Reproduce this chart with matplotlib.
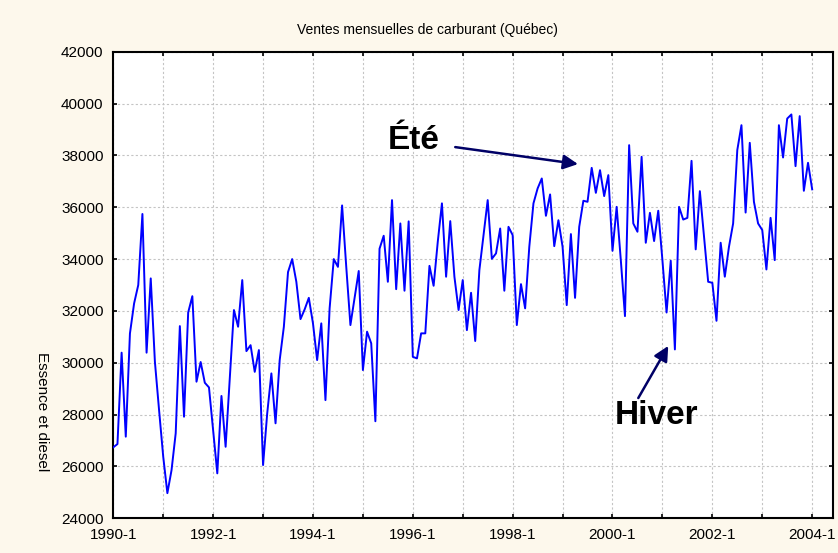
import matplotlib
matplotlib.use('Agg')  # no display
import matplotlib.pyplot as plt
from matplotlib.ticker import MultipleLocator, FixedLocator, FixedFormatter

# Monthly sales, 1990-1 .. 2004-1
ventes = [
    26740, 26865, 30390, 27150, 31130, 32290, 33000, 35740, 30390, 33255, 30040, 28180,  # 1990
    26380, 24970, 25860, 27280, 31415, 27920, 31940, 32570, 29270, 30030, 29230, 29050,  # 1991
    27400, 25735, 28720, 26760, 29400, 32035, 31390, 33190, 30450, 30680, 29650, 30490,  # 1992
    26055, 28050, 29590, 27665, 30105, 31390, 33500, 34000, 33125, 31685, 32060, 32505,  # 1993
    31520, 30105, 31520, 28560, 32100, 34000, 33700, 36070, 33700, 31455, 32485, 33540,  # 1994
    29720, 31200, 30750, 27745, 34400, 34900, 33125, 36275, 32840, 35375, 32780, 35455,  # 1995
    30230, 30170, 31135, 31135, 33740, 32970, 34670, 36150, 33320, 35465, 33320, 32035,  # 1996
    33190, 31260, 32700, 30840, 33575, 34925, 36275, 34010, 34220, 35180, 32780, 35245,  # 1997
    34925, 31455, 33035, 32100, 34475, 36150, 36725, 37110, 35670, 36495, 34500, 35500,  # 1998
    34475, 32225, 34965, 32505, 35245, 36250, 36210, 37520, 36555, 37430, 36430, 37240,  # 1999
    34320, 36015, 33960, 31800, 38395, 35375, 35055, 37945, 34630, 35785, 34695, 35865,  # 2000
    33960, 31940, 33935, 30515, 36015, 35525, 35590, 37790, 34375, 36620, 34860, 33125,  # 2001
    33085, 31620, 34630, 33320, 34475, 35375, 38205, 39165, 35795, 38485, 36210, 35375,  # 2002
    35120, 33600, 35590, 33960, 39165, 37920, 39420, 39580, 37585, 39515, 36635, 37715,  # 2003
    36690,                                                                               # 2004-1
]
mois = list(range(len(ventes)))

annees = list(range(1990, 2005))
etiquettes_x = [f"{a}-1" if (a - 1990) % 2 == 0 else "" for a in annees]
ticks_y = list(range(24000, 42001, 2000))

titre = "Ventes mensuelles de carburant (Québec)"
label_y = "Essence et diesel"

creme = '#fdf8ec'
bleu = '#0000ff'
marine = '#000066'

plt.rcParams['font.family'] = ['Liberation Sans', 'DejaVu Sans']

fig = plt.figure(figsize=(8.38, 5.53), dpi=100, facecolor=creme)
ax = fig.add_axes([0.1352, 0.0627, 0.8588, 0.8438])
ax.set_facecolor('white')

ax.plot(mois, ventes, color=bleu, linewidth=1.4, zorder=3)

ax.set_xlim(0, 173)
ax.set_ylim(24000, 42000)

# yearly grid, labels every other year
ax.xaxis.set_major_locator(FixedLocator([12 * (a - 1990) for a in annees]))
ax.xaxis.set_major_formatter(FixedFormatter(etiquettes_x))
ax.set_yticks(ticks_y)
ax.set_yticklabels([str(v) for v in ticks_y])

ax.grid(True, color='#c4c4c4', linestyle=(0, (2, 2)), linewidth=0.8, zorder=0)
ax.tick_params(direction='in', length=3, width=1.2, labelsize=11, pad=7,
               top=True, right=True, colors='black')
for s in ax.spines.values():
    s.set_linewidth(1.5)
    s.set_color('black')

fig.text(0.51, 0.945, titre, ha='center', va='center', fontsize=10)
fig.text(0.05, 0.255, label_y, ha='center', va='center', rotation=270, fontsize=11)

# annotations
ax.text(72.3, 38590, "Été", ha='center', va='center', fontsize=24, fontweight='bold')
ax.annotate('', xy=(111.7, 37665), xytext=(82.2, 38320),
            arrowprops=dict(arrowstyle='-|>', color=marine, lw=1.8, mutation_scale=22,
                            shrinkA=0, shrinkB=0))
ax.text(130.5, 27985, "Hiver", ha='center', va='center', fontsize=24, fontweight='bold')
ax.annotate('', xy=(133.4, 30650), xytext=(126.2, 28640),
            arrowprops=dict(arrowstyle='-|>', color=marine, lw=1.8, mutation_scale=22,
                            shrinkA=0, shrinkB=0))

plt.savefig('out.png', dpi=100, facecolor=creme)
plt.close()
